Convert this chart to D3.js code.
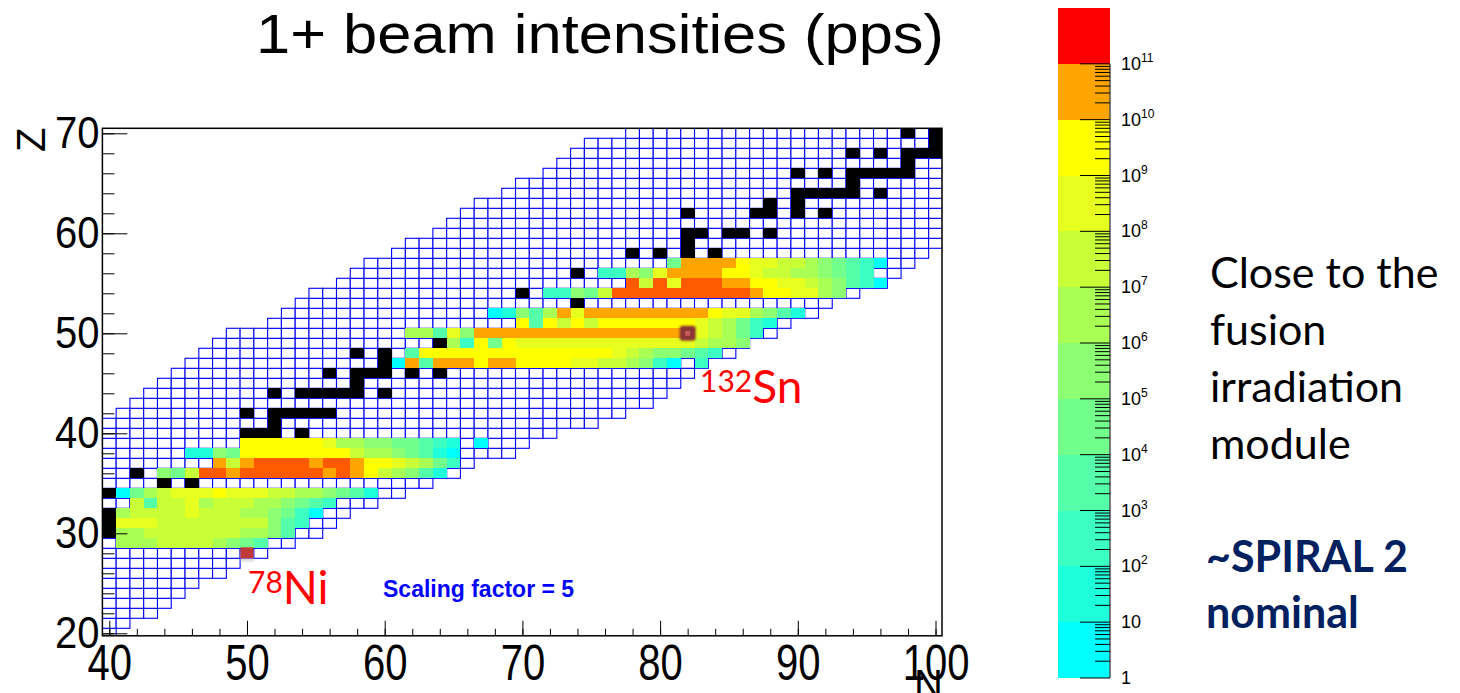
<!DOCTYPE html>
<html>
<head>
<meta charset="utf-8">
<script src="https://cdn.jsdelivr.net/npm/d3@7/dist/d3.min.js"></script>
<style>
body{margin:0;background:#fff;}
svg{display:block;}
</style>
</head>
<body>
<svg id="chart" width="1460" height="693"></svg>
<script>
// ---- data ----
// extent of the nuclide grid, one entry per Z from 20 to 70
const gridZ = d3.range(20, 71)
const gridMinN = [40,40,40,40,40,40,40,40,40,40, 40,40,40,40,40,40,40,40,40,40,
	40,40,41,42,43,44,45,46,47,48, 49,52,53,54,55,57,58,59,61,62,
	64,65,66,67,69,70,72,73,74,75, 78]
const gridMaxN = [40,41,43,44,45,46,48,49,51,53, 55,56,57,59,61,63,65,66,69,70,
	72,75,77,79,80,81,82,83,85,86, 88,89,91,92,94,96,97,98,99,100,
	100,100,100,100,100,100,100,100,100,100, 100]

// stable nuclei (black), [Z, N]
const stableNuclei = [
	[70,98],[70,100],[69,100],[68,94],[68,96],[68,98],[68,99],[68,100],[67,98],
	[66,90],[66,92],[66,94],[66,95],[66,96],[66,97],[66,98],[65,94],
	[64,90],[64,91],[64,92],[64,93],[64,94],[64,96],[63,88],[63,90],
	[62,82],[62,87],[62,88],[62,90],[62,92],[60,82],[60,83],[60,85],[60,86],[60,88],
	[59,82],[58,78],[58,80],[58,82],[58,84],[56,74],[54,70],[53,74],[49,64],
	[48,58],[48,60],[47,60],[46,56],[46,58],[46,59],[46,60],[46,62],[46,64],[45,58],
	[44,52],[44,54],[44,55],[44,56],[44,57],[44,58],[44,60],
	[42,50],[42,52],[42,53],[42,54],[42,55],[42,56],[41,52],[40,50],[40,51],[40,52],[40,54],
	[36,42],[35,44],[35,46],[34,40],[32,40],[31,40],[30,40]
]

// 1+ beam intensity, decade of pps (k means 10^k..10^k+1), rows: [Z, first N, decades]
const beamRows = [
	[57, 81, [4,10,10,10,10,9,8,8,7,7,6,5,4,3,2,0]],
	[56, 76, [2,2,6,5,8,10,10,10,10,9,9,8,7,7,6,6,5,4,3,2]],
	[55, 78, [11,7,11,8,11,11,11,10,10,9,9,8,8,7,6,5,3,2,0]],
	[54, 72, [2,2,5,4,7,11,11,11,11,11,11,11,11,11,11,10,9,9,8,8,6,5]],
	[52, 68, [0,1,5,3,6,10,8,10,10,10,10,10,10,10,10,10,9,8,8,6,5,3,1]],
	[51, 70, [9,3,9,7,9,7,9,9,9,9,9,9,9,8,7,6,4,2,1]],
	[50, 62, [6,6,3,8,5,10,10,10,10,10,10,10,10,10,10,10,10,10,10,10,10,8,7,6,4,2]],
	[49, 65, [6,2,9,4,9,8,8,8,8,8,8,8,8,8,8,8,8,8,7,6,6,5]],
	[48, 62, [3,9,9,9,9,9,9,9,9,9,9,9,9,9,9,8,7,6,5,5,4,3,2]],
	[47, 61, [0,10,3,10,10,10,9,10,10,9,9,9,9,8,8,7,7,6,5,2,0,null,2]],
	[39, 50, [9,9,9,9,9,9,8,6,6,5,5,4,4,3,2,1,null,0]],
	[38, 46, [1,1,5,4,9,9,9,9,9,9,9,9,7,6,6,5,4,3,1,0]],
	[37, 48, [10,7,10,11,11,11,11,10,11,11,10,9,9,8,7,6,4,2]],
	[36, 44, [5,4,7,11,11,10,11,11,11,11,11,11,10,11,10,9,7,6,5,3,1]],
	[34, 41, [0,4,6,7,8,8,8,9,8,8,8,7,7,6,6,5,4,3,1]],
	[33, 42, [7,3,7,7,8,6,7,7,7,6,6,5,4,3,2]],
	[32, 41, [6,7,7,7,7,8,7,7,7,6,6,5,4,2,0]],
	[31, 41, [8,8,8,7,7,7,7,7,7,7,7,5,3,2]],
	[30, 41, [6,6,7,7,7,7,7,7,7,6,6,5,3]],
	[29, 41, [6,6,6,7,7,7,7,6,5,4,3]]
]

// highlighted nuclei
const markers = [{label:'132', el:'Sn', Z:50, N:82}, {label:'78', el:'Ni', Z:28, N:50}]

const xTicks = [40,50,60,70,80,90,100]
const yTicks = [20,30,40,50,60,70]
const cbExponents = d3.range(0, 12)
const palette = ['#00ffff','#1effdc','#3cffc3','#55ffaa','#73ff8c','#8cff73',
	'#aaff55','#c8ff37','#e6ff1e','#ffff00','#ffa500','#ff5a00']
const sideText = ['Close to the','fusion','irradiation','module']
const sideBold = ['~SPIRAL 2','nominal']

// ---- drawing ----
const svg = d3.select('#chart')
const helv = '"Liberation Sans", Arial, Helvetica, sans-serif'
const frame = {x0:102.4, x1:942, y0:128.3, y1:635.8}

const x = d3.scaleLinear().domain([39.5,100.5]).range([102.4,942.4])
const y = d3.scaleLinear().domain([19.5,70.5]).range([638.3,128.3])
const color = d3.scaleThreshold().domain(d3.range(1,12)).range(palette)

svg.append('defs').append('clipPath').attr('id','clipFrame')
	.append('rect')
	.attr('x',frame.x0).attr('y',frame.y0)
	.attr('width',frame.x1-frame.x0).attr('height',frame.y1-frame.y0)

const plot = svg.append('g').attr('clip-path','url(#clipFrame)')

// grid of all nuclei
const cells = []
gridZ.forEach((z,i) => {
	for(let n = gridMinN[i]; n <= gridMaxN[i]; n++) cells.push({Z:z, N:n})
})
plot.append('g').selectAll('rect').data(cells).enter().append('rect')
	.attr('x',d => x(d.N-0.5)).attr('y',d => y(d.Z+0.5))
	.attr('width',d => x(d.N+0.5)-x(d.N-0.5)).attr('height',d => y(d.Z-0.5)-y(d.Z+0.5))
	.attr('fill','#fff').attr('stroke','#0000ff').attr('stroke-width',1.1)

// beam intensities
const beamCells = []
beamRows.forEach(([z,n0,vals]) => {
	vals.forEach((v,j) => { if(v !== null) beamCells.push({Z:z, N:n0+j, k:v}) })
})
plot.append('g').selectAll('rect').data(beamCells).enter().append('rect')
	.attr('x',d => x(d.N-0.5)).attr('y',d => y(d.Z+0.5))
	.attr('width',d => x(d.N+0.5)-x(d.N-0.5)).attr('height',d => y(d.Z-0.5)-y(d.Z+0.5))
	.attr('fill',d => color(d.k))
	.attr('shape-rendering','crispEdges')

// stable ones
plot.append('g').selectAll('rect').data(stableNuclei).enter().append('rect')
	.attr('x',d => x(d[1]-0.5)).attr('y',d => y(d[0]+0.5))
	.attr('width',d => x(d[1]+0.5)-x(d[1]-0.5)).attr('height',d => y(d[0]-0.5)-y(d[0]+0.5))
	.attr('fill','#000')
	.attr('shape-rendering','crispEdges')

// markers on 132Sn and 78Ni
const blur = svg.select('defs').append('filter').attr('id','soft')
	.attr('x','-50%').attr('y','-50%').attr('width','200%').attr('height','200%')
blur.append('feGaussianBlur').attr('stdDeviation',1.2)
const mk = plot.append('g')
mk.append('rect')
	.attr('x',x(markers[0].N)-8).attr('y',y(markers[0].Z)-7.5)
	.attr('width',16).attr('height',15).attr('rx',3)
	.attr('fill','#8b3535').attr('filter','url(#soft)')
mk.append('rect')
	.attr('x',x(markers[0].N)-2.5).attr('y',y(markers[0].Z)-2.5)
	.attr('width',5).attr('height',5).attr('fill','#c45c5c')
mk.append('rect')
	.attr('x',x(markers[1].N)-7).attr('y',y(markers[1].Z)-3)
	.attr('width',14).attr('height',11)
	.attr('fill','#bbbbbb').attr('opacity',0.6).attr('filter','url(#soft)')
mk.append('rect')
	.attr('x',x(markers[1].N)-6.5).attr('y',y(markers[1].Z)-6)
	.attr('width',13).attr('height',11)
	.attr('fill','#c0393b')

// frame
svg.append('rect')
	.attr('x',frame.x0).attr('y',frame.y0)
	.attr('width',frame.x1-frame.x0).attr('height',frame.y1-frame.y0)
	.attr('fill','none').attr('stroke','#000').attr('stroke-width',1.5)

// axes
function styleAxis(g){
	g.select('.domain').remove()
	g.selectAll('line').attr('stroke','#000')
	g.attr('font-family',helv).attr('font-size',40)
	g.selectAll('text').attr('fill','#000')
}
svg.append('g').attr('transform',`translate(0,${frame.y1})`)
	.call(d3.axisBottom(x).tickValues(d3.range(40,101,2)).tickSize(-7).tickFormat(''))
	.call(styleAxis)
svg.append('g').attr('transform',`translate(0,${frame.y1})`)
	.call(d3.axisBottom(x).tickValues(xTicks).tickSize(-15).tickPadding(7).tickFormat(d3.format('d')))
	.call(styleAxis)
	.call(g => g.selectAll('text').attr('transform','scale(1,1.25)'))
svg.append('g').attr('transform',`translate(${frame.x0},0)`)
	.call(d3.axisLeft(y).tickValues(d3.range(20,71,2)).tickSize(-12).tickFormat(''))
	.call(styleAxis)
svg.append('g').attr('transform',`translate(${frame.x0},0)`)
	.call(d3.axisLeft(y).tickValues(yTicks).tickSize(-25).tickPadding(3).tickFormat(d3.format('d')))
	.call(styleAxis)
	.call(g => g.selectAll('text').attr('transform','scale(1,1.1)'))

svg.append('text').text('Z')
	.attr('transform','translate(45,152) rotate(-90)')
	.attr('font-family',helv).attr('font-size',40)
svg.append('text').text('N')
	.attr('x',943).attr('y',698).attr('text-anchor','end')
	.attr('font-family',helv).attr('font-size',40)

// title
svg.append('text').text('1+ beam intensities (pps)')
	.attr('x',256).attr('y',53)
	.attr('textLength',688).attr('lengthAdjust','spacingAndGlyphs')
	.attr('font-family',helv).attr('font-size',56)

// scaling factor note
svg.append('text').text('Scaling factor = 5')
	.attr('x',383).attr('y',597)
	.attr('font-family',helv).attr('font-size',23).attr('font-weight','bold')
	.attr('fill','#0000ff')

// isotope labels
const calib = 'Lato, "Noto Sans", sans-serif'
const lab = [{t:markers[0], x:700, y:403}, {t:markers[1], x:248, y:604}]
lab.forEach(l => {
	const t = svg.append('text').attr('x',l.x).attr('y',l.y)
		.attr('font-family',calib).attr('fill','#ff0000')
	t.append('tspan').text(l.t.label).attr('font-size',30).attr('dy',-11)
	t.append('tspan').text(l.t.el).attr('font-size',46).attr('dy',11)
})

// colour bar
const cb = d3.scaleLog().domain([1,1e12]).range([678,8])
const cbX0 = 1058, cbX1 = 1110
svg.append('g').selectAll('rect').data(cbExponents).enter().append('rect')
	.attr('x',cbX0).attr('width',cbX1-cbX0)
	.attr('y',k => cb(Math.pow(10,k+1))).attr('height',k => cb(Math.pow(10,k))-cb(Math.pow(10,k+1)))
	.attr('fill',k => k === 11 ? '#ff0000' : color(k))
	.attr('shape-rendering','crispEdges')
const cbTicks = svg.append('g').attr('stroke','#000').attr('stroke-width',1)
cbTicks.append('line').attr('x1',cbX1).attr('x2',cbX1)
	.attr('y1',cb(1e11)).attr('y2',cb(1)).attr('stroke','#555').attr('stroke-width',1.5)
d3.range(0,11).forEach(k => {
	const base = Math.pow(10,k)
	cbTicks.append('line').attr('x1',cbX1-30).attr('x2',cbX1)
		.attr('y1',cb(base)).attr('y2',cb(base))
	d3.range(2,10).forEach(m => {
		cbTicks.append('line').attr('x1',cbX1-15).attr('x2',cbX1)
			.attr('y1',cb(base*m)).attr('y2',cb(base*m))
	})
})
cbTicks.append('line').attr('x1',cbX1-30).attr('x2',cbX1).attr('y1',cb(1e11)).attr('y2',cb(1e11))
const cbLab = svg.append('g').attr('font-family',helv).attr('font-size',18)
cbExponents.forEach(k => {
	const t = cbLab.append('text').attr('x',1121).attr('y',cb(Math.pow(10,k))+6)
	if(k === 0){ t.text('1') }
	else if(k === 1){ t.text('10') }
	else {
		t.append('tspan').text('10')
		t.append('tspan').text(k).attr('font-size',12).attr('dy',-8)
	}
})

// side notes
svg.append('g').selectAll('text').data(sideText).enter().append('text')
	.text(d => d).attr('x',1210).attr('y',(d,i) => 288 + i*57)
	.attr('font-family',calib).attr('font-size',43).attr('fill','#000')
svg.append('g').selectAll('text').data(sideBold).enter().append('text')
	.text(d => d).attr('x',1206).attr('y',(d,i) => 572 + i*56)
	.attr('font-family',calib).attr('font-size',43).attr('font-weight','bold').attr('fill','#002060')
</script>
</body>
</html>
